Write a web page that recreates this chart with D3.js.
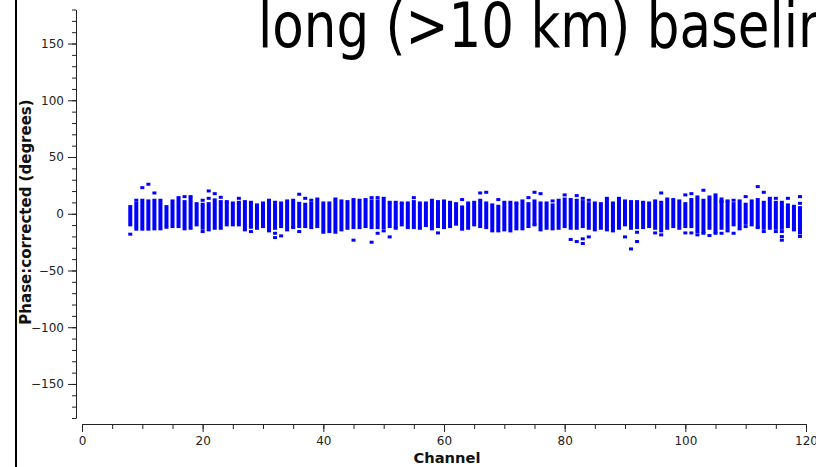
<!DOCTYPE html>
<html>
<head>
<meta charset="utf-8">
<script src="https://cdn.jsdelivr.net/npm/d3@7"></script>
<style>
  html, body { margin: 0; padding: 0; background: #fff; overflow: hidden; }
  svg { display: block; }
</style>
</head>
<body>
<svg id="chart" width="816" height="467"></svg>
<script>
// ---- data ----
const titleText = "long (>10 km) baselines";
const xLabel = "Channel";
const yLabel = "Phase:corrected (degrees)";
const xTickLabels = [0, 20, 40, 60, 80, 100, 120];
const yTickLabels = [-150, -100, -50, 0, 50, 100, 150];

const channels = [8,9,10,11,12,13,14,15,16,17,18,19,20,21,22,23,24,25,26,27,28,29,30,31,32,33,34,35,36,37,38,39,
  40,41,42,43,44,45,46,47,48,49,50,51,52,53,54,55,56,57,58,59,60,61,62,63,64,65,66,67,68,69,70,71,
  72,73,74,75,76,77,78,79,80,81,82,83,84,85,86,87,88,89,90,91,92,93,94,95,96,97,98,99,100,101,102,103,
  104,105,106,107,108,109,110,111,112,113,114,115,116,117,118,119];

const barHigh = [6.3,9.2,11.9,11.3,11.9,11.9,6.3,11.3,14.2,10.7,13.0,8.9,6.3,8.9,12.2,10.7,8.9,9.5,8.4,10.7,10.1,7.8,9.5,11.9,7.8,9.5,9.2,11.9,9.2,8.4,9.2,13.0,
  9.5,9.5,10.7,11.3,10.7,10.1,11.9,10.1,11.3,11.3,13.6,8.4,7.8,8.4,9.5,10.7,9.5,9.5,11.9,10.7,11.3,10.1,8.9,6.0,9.5,10.1,11.9,7.2,7.8,6.6,10.1,10.1,
  8.4,11.3,8.9,11.3,9.5,9.5,7.8,11.9,13.0,12.5,11.9,10.7,8.9,9.5,8.9,13.6,9.5,13.6,9.5,10.7,10.7,8.9,9.5,11.3,7.8,13.0,12.5,11.3,8.9,10.1,12.5,11.9,
  12.5,16.6,13.0,10.1,8.9,11.3,8.4,11.3,12.5,10.1,13.6,10.1,10.1,7.8,6.6,5.4];

const barLow = [-9.8,-11.3,-13.6,-13.6,-13.3,-13.3,-9.8,-11.3,-11.3,-13.3,-12.8,-9.8,-12.8,-14.2,-12.8,-12.8,-9.8,-9.8,-9.8,-14.2,-8.4,-12.8,-11.3,-15.1,-12.8,-11.3,-14.2,-11.3,-11.3,-11.3,-12.2,-11.3,
  -14.2,-15.7,-16.3,-14.2,-12.8,-12.2,-12.2,-11.3,-12.2,-12.2,-12.2,-11.3,-11.3,-9.8,-10.4,-12.2,-11.3,-10.4,-13.3,-11.3,-12.2,-11.3,-9.2,-11.3,-12.8,-9.8,-11.3,-12.2,-15.1,-15.1,-14.2,-15.1,
  -13.3,-13.3,-11.3,-8.4,-14.2,-12.8,-13.3,-12.8,-11.3,-12.8,-12.8,-11.3,-12.8,-14.2,-12.8,-14.2,-15.1,-12.8,-9.8,-12.8,-12.2,-12.2,-11.3,-12.8,-15.1,-12.8,-11.3,-12.8,-11.3,-11.3,-15.7,-15.7,
  -12.8,-15.7,-12.8,-12.8,-9.8,-13.3,-8.4,-9.8,-11.3,-12.8,-12.8,-12.8,-12.8,-11.3,-12.8,-15.7];

const outlierChannel = [8,9,9,10,11,12,14,17,18,20,20,20,21,21,22,23,24,26,26,28,28,28,32,32,32,33,34,35,36,36,37,38,
  40,42,45,45,47,48,48,49,49,50,51,51,52,52,53,54,55,56,59,63,63,66,67,67,69,
  72,74,75,75,76,78,80,81,82,82,83,83,83,84,84,90,90,91,92,92,93,95,96,96,96,100,100,101,101,101,102,102,103,103,
  104,104,105,106,106,107,107,108,108,110,110,112,112,113,113,115,115,116,116,116,117,118,119,119,119,119];
const outlierValue = [-18.0,11.9,-13.6,23.0,26.0,18.3,-11.9,15.1,15.1,11.9,8.4,-15.7,20.1,13.6,17.7,14.5,10.7,13.6,10.1,-10.4,-11.9,-15.7,10.1,-17.2,-21.0,-19.5,11.3,-12.2,17.2,-15.7,13.6,11.9,
  -16.3,13.0,12.5,-23.3,12.5,14.2,-25.1,14.2,-17.2,-15.1,10.1,-20.4,10.1,-12.8,9.5,-12.2,14.2,-12.8,-16.9,12.5,-13.6,18.3,18.9,9.5,12.5,
  9.5,14.2,18.9,-9.8,17.7,11.3,16.6,-22.7,16.0,-24.5,13.6,-22.1,-26.2,11.9,-20.4,11.3,-20.4,-31.0,-16.3,-24.5,10.1,-16.9,18.3,10.1,-18.6,16.6,-16.9,17.7,12.5,-16.9,14.8,-18.6,20.7,-17.2,
  14.8,-19.2,-17.2,10.7,-17.2,11.3,-15.1,11.9,-17.2,15.1,-11.3,23.9,-12.2,18.9,-15.7,13.6,-15.7,-15.7,-20.1,-23.3,13.6,-14.2,15.1,9.2,-17.0,-20.0];

// ---- drawing ----
const svg = d3.select("#chart");
const W = 816, H = 467;
const x = d3.scaleLinear().domain([0, 120]).range([82, 806]);
const y = d3.scaleLinear().domain([-180, 180]).range([418, 9.5]);
const axisX = 76, axisY = 424;
const blue = "#0000ff";
const font = "DejaVu Sans, Liberation Sans, sans-serif";

// left frame line
svg.append("line").attr("x1", 16).attr("x2", 16).attr("y1", 0).attr("y2", H)
  .attr("stroke", "#000").attr("stroke-width", 2);

// title (clipped by the window, horizontally condensed)
svg.append("text").attr("transform", "translate(258,47) scale(0.83,1)")
  .attr("font-family", font).attr("font-size", 62).attr("fill", "#000")
  .text(titleText);

// y axis
const yMinor = d3.range(-180, 181, 10);
const gy = svg.append("g").attr("transform", `translate(${axisX},0)`);
gy.call(d3.axisLeft(y).tickValues(yMinor).tickSize(4).tickSizeOuter(0).tickFormat(""));
const gyM = svg.append("g").attr("transform", `translate(${axisX},0)`);
gyM.call(d3.axisLeft(y).tickValues(yTickLabels).tickSize(8).tickSizeOuter(0).tickPadding(4).tickFormat(d3.format("d")));
gyM.select(".domain").remove();
[gy, gyM].forEach(g => {
  g.selectAll("text").attr("font-family", font).attr("font-size", 12).attr("fill", "#222");
  g.selectAll("line,path").attr("stroke", "#222");
});

// x axis
const xMinor = d3.range(0, 121, 5);
const gx = svg.append("g").attr("transform", `translate(0,${axisY})`);
gx.call(d3.axisBottom(x).tickValues(xMinor).tickSize(5).tickSizeOuter(0).tickFormat(""));
const gxM = svg.append("g").attr("transform", `translate(0,${axisY})`);
gxM.call(d3.axisBottom(x).tickValues(xTickLabels).tickSize(8).tickSizeOuter(0).tickPadding(4).tickFormat(d3.format("d")));
gxM.select(".domain").remove();
[gx, gxM].forEach(g => {
  g.selectAll("text").attr("font-family", font).attr("font-size", 12).attr("fill", "#222");
  g.selectAll("line,path").attr("stroke", "#222");
});

// axis labels
svg.append("text").attr("x", 447).attr("y", 463).attr("text-anchor", "middle")
  .attr("font-family", font).attr("font-size", 14.7).attr("font-weight", "bold").attr("fill", "#111")
  .text(xLabel);
svg.append("text").attr("transform", `translate(31,212) rotate(-90)`).attr("text-anchor", "middle")
  .attr("font-family", font).attr("font-size", 15).attr("font-weight", "bold").attr("fill", "#111")
  .text(yLabel);

// bars (clusters of points)
const bw = 4;
svg.append("g").selectAll("rect").data(channels).join("rect")
  .attr("x", (d) => x(d) - bw / 2)
  .attr("y", (d, i) => y(barHigh[i]) - 1.5)
  .attr("width", bw)
  .attr("height", (d, i) => y(barLow[i]) - y(barHigh[i]) + 3)
  .attr("fill", blue);

// isolated points
svg.append("g").selectAll("rect").data(outlierChannel).join("rect")
  .attr("x", (d) => x(d) - bw / 2)
  .attr("y", (d, i) => y(outlierValue[i]) - 1.5)
  .attr("width", bw)
  .attr("height", 3)
  .attr("fill", blue);
</script>
</body>
</html>
